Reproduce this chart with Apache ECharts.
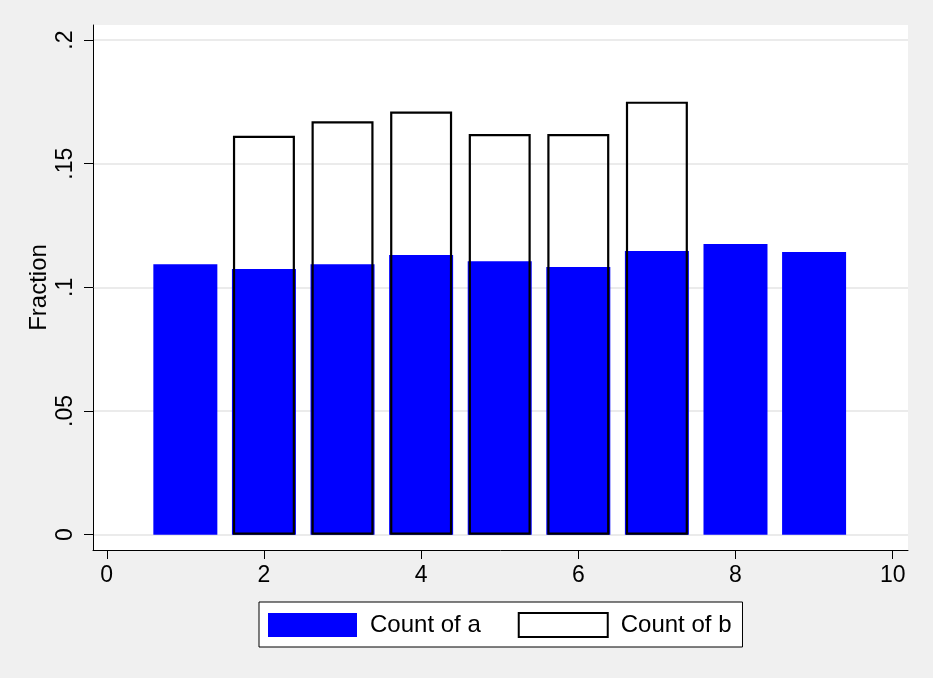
<!DOCTYPE html>
<html>
<head>
<meta charset="utf-8">
<script src="https://cdn.jsdelivr.net/npm/echarts@6/dist/echarts.min.js"></script>
<style>
html,body{margin:0;padding:0;background:#f0f0f0;}
#c{width:933px;height:678px;}
</style>
</head>
<body>
<div id="c"></div>
<script>
var xCats = [1, 2, 3, 4, 5, 6, 7, 8, 9];
var aValues = [0.1094, 0.1074, 0.1094, 0.1131, 0.1106, 0.1082, 0.1147, 0.1175, 0.1143];
var bCats = [2, 3, 4, 5, 6, 7];
var bValues = [0.1613, 0.1672, 0.1711, 0.1620, 0.1620, 0.1751];
var xTicks = [0, 2, 4, 6, 8, 10];
var yTicks = [0, 0.05, 0.1, 0.15, 0.2];
var yTickLabels = ['0', '.05', '.1', '.15', '.2'];
var seriesNames = ['Count of a', 'Count of b'];

var FONT = '"Liberation Sans", Arial, sans-serif';
var chart = echarts.init(document.getElementById('c'));

var aData = xCats.map(function (x, i) { return [x, aValues[i]]; });
var bData = bCats.map(function (x, i) { return [x, bValues[i]]; });

function xAxisCfg(show) {
  return {
    type: 'value', gridIndex: 0, min: -0.175, max: 10.195,
    show: show,
    axisLine: {show: true, onZero: false, lineStyle: {color: '#000', width: 1}},
    axisTick: {show: true, length: 9, lineStyle: {color: '#000', width: 1}, customValues: xTicks},
    axisLabel: {show: true, customValues: xTicks, margin: 14, color: '#000', fontSize: 23, fontFamily: FONT},
    splitLine: {show: false}
  };
}

chart.setOption({
  backgroundColor: '#f0f0f0',
  animation: false,
  grid: {left: 93, right: 25, top: 25, bottom: 128, show: true, backgroundColor: '#ffffff', borderWidth: 0},
  xAxis: [xAxisCfg(true), xAxisCfg(false)],
  yAxis: {
    type: 'value', min: -0.0062, max: 0.2061,
    name: 'Fraction', nameLocation: 'middle', nameGap: 42, nameMoveOverlap: false,
    nameTextStyle: {color: '#000', fontSize: 24, fontFamily: FONT},
    axisLine: {show: true, onZero: false, lineStyle: {color: '#000', width: 1}},
    axisTick: {show: true, length: 9, lineStyle: {color: '#000', width: 1}, customValues: yTicks},
    axisLabel: {
      show: true, customValues: yTicks, rotate: 90, margin: 16,
      color: '#000', fontSize: 23, fontFamily: FONT,
      formatter: function (v) {
        for (var i = 0; i < yTicks.length; i++) {
          if (Math.abs(yTicks[i] - v) < 1e-9) return yTickLabels[i];
        }
        return '';
      }
    },
    splitLine: {show: true, lineStyle: {color: '#e4e4e4', width: 1.7}}
  },
  legend: {
    left: 259, top: 602,
    orient: 'horizontal',
    padding: [10, 11, 9, 9],
    itemWidth: 89, itemHeight: 24, itemGap: 37,
    backgroundColor: '#ffffff', borderColor: '#000', borderWidth: 1, borderRadius: 0,
    selectedMode: false,
    textStyle: {color: '#000', fontSize: 24, fontFamily: FONT, padding: [0, 0, 0, 8]},
    data: [
      {name: seriesNames[0], icon: 'rect', itemStyle: {color: '#0000ff', borderWidth: 0}},
      {name: seriesNames[1], icon: 'rect', itemStyle: {color: '#ffffff', borderColor: '#000', borderWidth: 2}}
    ]
  },
  series: [
    {
      name: seriesNames[0], type: 'bar', xAxisIndex: 0, data: aData,
      barWidth: 64, itemStyle: {color: '#0000ff'}, z: 2
    },
    {
      name: seriesNames[1], type: 'bar', xAxisIndex: 1, data: bData,
      barWidth: 62, itemStyle: {color: 'rgba(0,0,0,0)', borderColor: '#000', borderWidth: 2.2}, z: 3
    }
  ]
});
</script>
</body>
</html>
